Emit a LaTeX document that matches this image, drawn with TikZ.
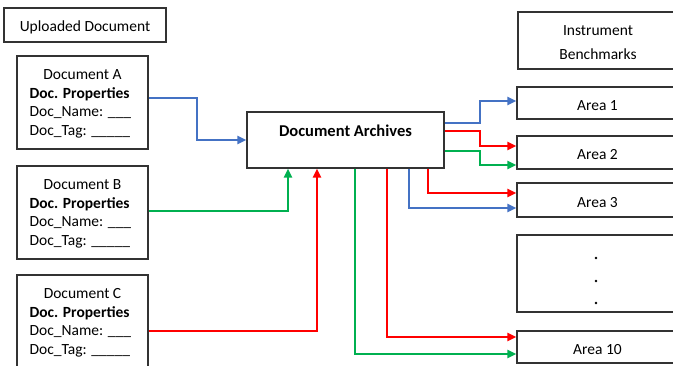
\documentclass[tikz,border=0pt]{standalone}
\usepackage{fontspec}
\setmainfont{Carlito}
\usetikzlibrary{arrows.meta}
\definecolor{cblue}{HTML}{4472C4}
\definecolor{cred}{HTML}{FF0000}
\definecolor{cgreen}{HTML}{00B050}
\tikzset{
  box/.style={draw=black!80, line width=1.2pt, inner sep=0pt, fill=white},
  txt/.style={inner sep=0pt, font=\fontsize{15.5}{18}\selectfont},
  ltxt/.style={txt, anchor=west},
  conn/.style={line width=2pt, -{Triangle[length=9pt,width=8pt]}},
  bconn/.style={conn, cblue},
  rconn/.style={conn, cred},
  gconn/.style={conn, cgreen},
}
\begin{document}
\begin{tikzpicture}[x=1pt,y=-1pt]
\useasboundingbox (0,0) rectangle (673,365);
% boxes
\node[box, minimum width=162pt, minimum height=34pt] (up) at (85,25) {};
\node[txt] (upt) at ([yshift=-2pt]up.center) {Uploaded Document};
\node[box, minimum width=131pt, minimum height=93pt] (docA) at (82.5,102.5) {};
\node[box, minimum width=131pt, minimum height=93pt] (docB) at (82.5,212.5) {};
\node[box, minimum width=131pt, minimum height=93pt] (docC) at (82.5,321.5) {};
\node[box, minimum width=197pt, minimum height=56pt] (arch) at (345.5,140) {};
\node[txt, font=\fontsize{16.5}{19}\selectfont\bfseries] (archt) at (345.5,131) {Document Archives};
\node[box, minimum width=160pt, minimum height=57pt] (bench) at (598,40.5) {};
\node[txt, align=center, font=\fontsize{15.5}{23.5}\selectfont] (bencht) at ([yshift=-2pt]bench.center) {Instrument\\Benchmarks};
\node[box, minimum width=161pt, minimum height=32pt] (a1) at (597.5,103) {};
\node[box, minimum width=161pt, minimum height=33pt] (a2) at (597.5,152.5) {};
\node[box, minimum width=161pt, minimum height=34pt] (a3) at (597.5,200) {};
\node[box, minimum width=161pt, minimum height=77pt] (dots) at (597.5,273.5) {};
\node[box, minimum width=161pt, minimum height=32pt] (a10) at (597.5,347) {};
\node[txt] (a1t) at ([yshift=-2.5pt]a1.center) {Area 1};
\node[txt] (a2t) at ([yshift=-2.5pt]a2.center) {Area 2};
\node[txt] (a3t) at ([yshift=-2.5pt]a3.center) {Area 3};
\node[txt] (a10t) at ([yshift=-2.5pt]a10.center) {Area 10};
\fill (596,258) circle (1.3pt);
\fill (596,281) circle (1.3pt);
\fill (596,303) circle (1.3pt);
% document texts
\foreach \d/\l in {docA/A,docB/B,docC/C}{
  \node[txt] (\d t) at ([yshift=-19pt]\d.north) {Document \l};
  \node[ltxt] (\d p) at ([xshift=13pt,yshift=-38.5pt]\d.north west) {\textbf{Doc. Properties}};
  \node[ltxt] (\d n) at ([xshift=13pt,yshift=-57.5pt]\d.north west) {Doc\_Name: \_\_\_};
  \node[ltxt] (\d g) at ([xshift=13pt,yshift=-76.5pt]\d.north west) {Doc\_Tag: \_\_\_\_\_};
}
% connectors
\draw[bconn] (docA.east |- 0,98) -- (197,98) |- (arch.west);
\draw[gconn] (docB.east |- 0,211) -| (arch.south -| 288,0);
\draw[rconn] (docC.east |- 0,331) -| (arch.south -| 317,0);
\draw[bconn] (arch.east |- 0,123) -- (480,123) |- (a1.west |- 0,101);
\draw[rconn] (arch.east |- 0,131) -- (480,131) |- (a2.west |- 0,146);
\draw[gconn] (arch.east |- 0,151) -- (480,151) |- (a2.west |- 0,165);
\draw[rconn] (arch.south -| 428,0) |- (a3.west |- 0,193);
\draw[bconn] (arch.south -| 409,0) |- (a3.west |- 0,208);
\draw[rconn] (arch.south -| 387,0) |- (a10.west |- 0,337);
\draw[gconn] (arch.south -| 355,0) |- (a10.west |- 0,354);
\end{tikzpicture}
\end{document}
